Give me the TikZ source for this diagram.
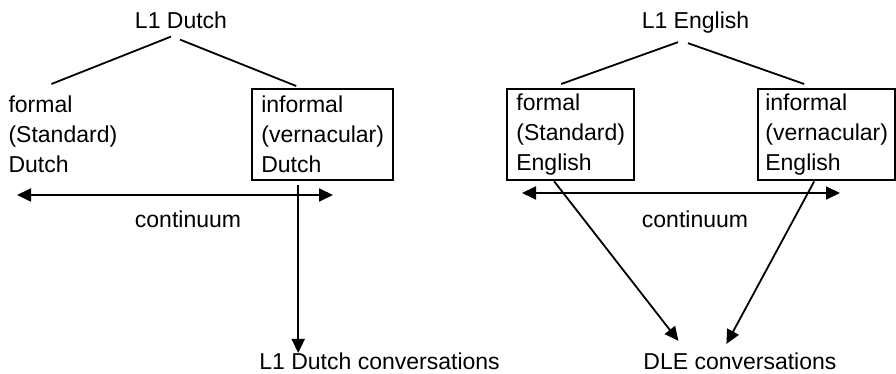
\documentclass[tikz,border=0pt]{standalone}
\usepackage{fontspec}
\setmainfont{Liberation Sans}
\usetikzlibrary{arrows.meta}

\begin{document}
\begin{tikzpicture}[x=0.5pt, y=-0.5pt,
    every node/.style={font=\fontsize{11.5}{15}\selectfont},
    >={Triangle[length=7pt,width=6.5pt]},
    lbl/.style={inner sep=0pt},
    variety/.style={anchor=north west, align=left, minimum height=45.5pt, inner sep=0pt},
    boxed/.style={variety, draw, line width=1.2pt},
    link/.style={line width=0.9pt}]
    \useasboundingbox (0,0) rectangle (896,374);

    % Draw the first languages
    \node[lbl, anchor=base] (dutch) at (181,29) {L1 Dutch};
    \node[lbl, anchor=base] (english) at (695.5,29) {L1 English};

    % Draw the varieties
    \node[variety, minimum width=62.5pt] (fdutch) at (0,88) {formal\\(Standard)\\Dutch};
    \node[boxed, minimum width=70.5pt] (idutch) at (251,88) {informal\\(vernacular)\\Dutch};
    \node[boxed, minimum width=63.5pt] (feng) at (506,88) {formal\\(Standard)\\English};
    \node[boxed, minimum width=68.5pt] (ieng) at (757,88) {informal\\(vernacular)\\English};

    % Connect languages to varieties
    \draw[link] ([xshift=-5pt,yshift=-3.5pt]dutch.south) -- ([xshift=-5.75pt,yshift=2pt]fdutch.north);
    \draw[link] ([xshift=-0.5pt,yshift=-5pt]dutch.south) -- ([xshift=-13.25pt,yshift=1pt]idutch.north);
    \draw[link] ([xshift=-8.75pt,yshift=-4pt]english.south) -- ([xshift=-4.75pt,yshift=2pt]feng.north);
    \draw[link] ([xshift=-3.75pt,yshift=-4.5pt]english.south) -- ([xshift=-11.25pt,yshift=2pt]ieng.north);

    % Add the continua
    \coordinate (dleft) at (17,195);
    \coordinate (dright) at (333,195);
    \coordinate (eleft) at (522,193);
    \coordinate (eright) at (840,193);
    \draw[link,<->] (dleft) -- (dright);
    \draw[link,<->] (eleft) -- (eright);
    \node[lbl, anchor=base] (dcont) at (188,228) {continuum};
    \node[lbl, anchor=base] (econt) at (695,228) {continuum};

    % Add the conversations
    \node[lbl, anchor=base west] (dconv) at (259,370) {L1 Dutch conversations};
    \node[lbl, anchor=base west] (dle) at (643,370) {DLE conversations};
    \draw[link,->] ([xshift=-12.25pt,yshift=-2pt]idutch.south) -- ([xshift=-12.25pt]dconv.north -| idutch.south);
    \draw[link,->] ([xshift=-8.25pt]feng.south) -- ([xshift=-30.75pt,yshift=6pt]dle.north);
    \draw[link,->] ([xshift=-6.25pt]ieng.south) -- ([xshift=-6.75pt,yshift=4.5pt]dle.north);
\end{tikzpicture}
\end{document}
